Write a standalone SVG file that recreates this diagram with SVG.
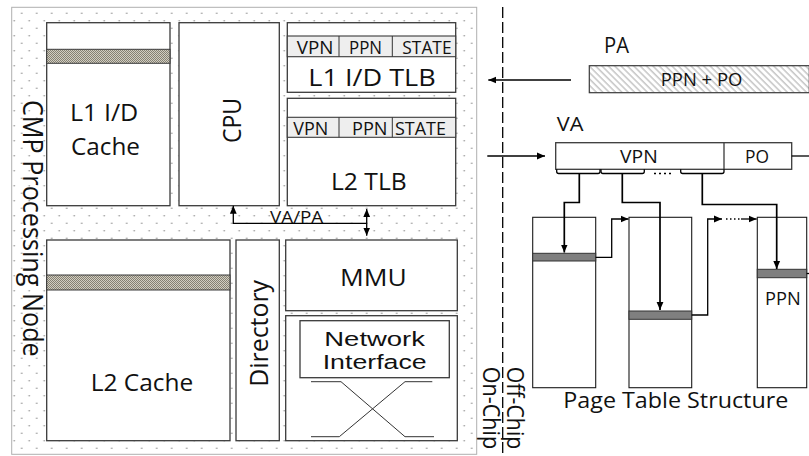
<svg xmlns="http://www.w3.org/2000/svg" width="809" height="456" viewBox="0 0 809 456">
<style>
text{font-family:"Open Sans","Liberation Sans",sans-serif;fill:#111}
.box{fill:#fff;stroke:#3a3a3a;stroke-width:1.3}
.hdr{fill:#eeeeee;stroke:#3a3a3a;stroke-width:1.1}
.tbl{fill:#fff;stroke:#1a1a1a;stroke-width:1.1}
.band{fill:#7f7f7f;stroke:#333;stroke-width:1}
.hb{fill:url(#chk);stroke:#3a3a3a;stroke-width:1}
.conn{fill:none;stroke:#000;stroke-width:1.7}
.thin{fill:none;stroke:#000;stroke-width:1.3}
.x{fill:none;stroke:#333;stroke-width:1}
.big{font-size:23px}
.mid{font-size:18.6px}
.sm{font-size:17.8px}
.ni{font-family:"Liberation Sans","Open Sans",sans-serif;font-size:20.5px}
</style>
<defs>
<pattern id="dots" patternUnits="userSpaceOnUse" x="3.7" y="0" width="15" height="15">
<circle cx="3" cy="13.3" r="0.8" fill="#8c8c8c"/>
<circle cx="10.5" cy="5.8" r="0.8" fill="#8c8c8c"/>
</pattern>
<pattern id="chk" patternUnits="userSpaceOnUse" width="2" height="2">
<rect width="2" height="2" fill="#d2cec2"/>
<rect width="1" height="1" fill="#858173"/>
<rect x="1" y="1" width="1" height="1" fill="#858173"/>
</pattern>
<pattern id="diag" patternUnits="userSpaceOnUse" width="4.5" height="4.5" patternTransform="rotate(-45)">
<rect width="4.5" height="4.5" fill="#fff"/>
<line x1="1" y1="0" x2="1" y2="4.5" stroke="#bdbdbd" stroke-width="1.3"/>
</pattern>
<marker id="ah" markerUnits="userSpaceOnUse" markerWidth="9" markerHeight="8" refX="8" refY="4" orient="auto-start-reverse">
<path d="M0,0.6 L8,4 L0,7.4 z" fill="#000"/>
</marker>
</defs>

<g id="cmp-node">
<rect x="11.7" y="7.3" width="465" height="447" fill="#fff" stroke="#b0b0b0" stroke-width="1"/>
<rect x="11.7" y="7.3" width="465" height="447" fill="url(#dots)"/>
<text style="font-size:28px" transform="translate(23,100) rotate(90)" textLength="256.7" lengthAdjust="spacingAndGlyphs">CMP Processing Node</text>
</g>

<g id="l1-cache">
<rect class="box" x="46.7" y="22.7" width="123.3" height="183"/>
<rect class="hb" x="46.7" y="49.3" width="123.3" height="14"/>
<text class="big" x="70" y="120.7" textLength="68.3" lengthAdjust="spacingAndGlyphs">L1 I/D</text>
<text class="big" x="71" y="155" textLength="69" lengthAdjust="spacingAndGlyphs">Cache</text>
</g>

<g id="cpu">
<rect class="box" x="179" y="22.7" width="100.3" height="183"/>
<text style="font-size:25px" transform="translate(240.7,143) rotate(-90)" textLength="45" lengthAdjust="spacingAndGlyphs">CPU</text>
</g>

<g id="l1-tlb">
<rect class="box" x="287.3" y="22.7" width="168.4" height="69.6"/>
<rect class="hdr" x="287.3" y="36" width="168.4" height="20.7"/>
<line class="x" x1="339" y1="36" x2="339" y2="56.7"/>
<line class="x" x1="392.3" y1="36" x2="392.3" y2="56.7"/>
<text class="sm" x="296.7" y="54" textLength="36.7" lengthAdjust="spacingAndGlyphs">VPN</text>
<text class="sm" x="349" y="54" textLength="33" lengthAdjust="spacingAndGlyphs">PPN</text>
<text class="sm" x="402.3" y="54" textLength="49.3" lengthAdjust="spacingAndGlyphs">STATE</text>
<text class="big" x="308.3" y="86" textLength="127.4" lengthAdjust="spacingAndGlyphs">L1 I/D TLB</text>
</g>

<g id="l2-tlb">
<rect class="box" x="287.3" y="98.3" width="168.4" height="107.4"/>
<rect class="hdr" x="287.3" y="117.3" width="168.4" height="20"/>
<line class="x" x1="339" y1="117.3" x2="339" y2="137.3"/>
<line class="x" x1="392.3" y1="117.3" x2="392.3" y2="137.3"/>
<text class="sm" x="293.3" y="135" textLength="35" lengthAdjust="spacingAndGlyphs">VPN</text>
<text class="sm" x="352" y="135" textLength="35.5" lengthAdjust="spacingAndGlyphs">PPN</text>
<text class="sm" x="395" y="135" textLength="51" lengthAdjust="spacingAndGlyphs">STATE</text>
<text class="big" x="331" y="190" textLength="75.7" lengthAdjust="spacingAndGlyphs">L2 TLB</text>
</g>

<g id="l2-cache">
<rect class="box" x="46.7" y="240" width="183.3" height="200.7"/>
<rect class="hb" x="46.7" y="275" width="183.3" height="15"/>
<text class="big" x="90.7" y="390.7" textLength="102.6" lengthAdjust="spacingAndGlyphs">L2 Cache</text>
</g>

<g id="directory">
<rect class="box" x="236" y="240" width="43.3" height="200.7"/>
<text style="font-size:25px" transform="translate(268,386.7) rotate(-90)" textLength="106.7" lengthAdjust="spacingAndGlyphs">Directory</text>
</g>

<g id="mmu">
<rect class="box" x="285.7" y="240" width="171.6" height="70.7"/>
<text class="big" x="340" y="286" textLength="66.7" lengthAdjust="spacingAndGlyphs">MMU</text>
</g>

<g id="network-interface">
<rect class="box" x="285.7" y="315.7" width="171.6" height="125"/>
<rect class="box" x="300" y="320.7" width="149.3" height="57"/>
<text class="ni" x="324.3" y="345.5" textLength="100.7" lengthAdjust="spacingAndGlyphs">Network</text>
<text class="ni" x="322.7" y="369" textLength="104" lengthAdjust="spacingAndGlyphs">Interface</text>
<path class="x" d="M311,381.7 H341 L405,436.7 H434 M432.3,381.7 H405 L339.3,436.7 H311"/>
</g>

<g id="chip-boundary">
<line x1="502.7" y1="7" x2="502.7" y2="456" stroke="#000" stroke-width="1.3" stroke-dasharray="11,4"/>
<text style="font-size:23.4px" transform="translate(483.3,366.7) rotate(90)" textLength="82.6" lengthAdjust="spacingAndGlyphs">On-Chip</text>
<text style="font-size:23.4px" transform="translate(507.3,366.7) rotate(90)" textLength="82.6" lengthAdjust="spacingAndGlyphs">Off-Chip</text>
</g>

<g id="pa">
<text style="font-size:21.4px" x="604" y="52.7" textLength="25" lengthAdjust="spacingAndGlyphs">PA</text>
<rect x="589.3" y="65.7" width="220" height="27" fill="url(#diag)" stroke="#3a3a3a" stroke-width="1.2"/>
<text class="mid" x="660.7" y="86" textLength="81.7" lengthAdjust="spacingAndGlyphs">PPN + PO</text>
</g>

<g id="va">
<text style="font-size:20px" x="556.7" y="131" textLength="26.7" lengthAdjust="spacingAndGlyphs">VA</text>
<rect class="box" x="555.7" y="142.7" width="236" height="26.6"/>
<line x1="724" y1="142.7" x2="724" y2="169.3" stroke="#3a3a3a" stroke-width="1.3"/>
<text class="mid" x="620" y="162.7" textLength="37.7" lengthAdjust="spacingAndGlyphs">VPN</text>
<text class="mid" x="745" y="162.7" textLength="24" lengthAdjust="spacingAndGlyphs">PO</text>
<path class="thin" d="M556.7,169.3 V171.5 Q556.7,173.5 558.7,173.5 H598 Q600,173.5 600,171.5 V169.3"/>
<path class="thin" d="M601,169.3 V171.5 Q601,173.5 603,173.5 H642.3 Q644.3,173.5 644.3,171.5 V169.3"/>
<path class="thin" d="M680.7,169.3 V171.5 Q680.7,173.5 682.7,173.5 H722 Q724,173.5 724,171.5 V169.3"/>
<line x1="654" y1="173.5" x2="672" y2="173.5" stroke="#000" stroke-width="1.6" stroke-dasharray="2,3"/>
</g>

<g id="pt1">
<rect class="tbl" x="532.7" y="217.3" width="63" height="170.4"/>
<rect class="band" x="532.7" y="253.3" width="63" height="7.7"/>
</g>
<g id="pt2">
<rect class="tbl" x="629" y="217.3" width="62.7" height="170.4"/>
<rect class="band" x="629" y="311" width="62.7" height="8.3"/>
</g>
<g id="pt3">
<rect class="tbl" x="757.3" y="217.3" width="49.4" height="170.4"/>
<rect class="band" x="757.3" y="269.3" width="49.4" height="8.4"/>
<text class="mid" x="765" y="305" textLength="35.7" lengthAdjust="spacingAndGlyphs">PPN</text>
</g>
<g id="page-table-label">
<text style="font-size:22.4px" x="563.3" y="408.3" textLength="225" lengthAdjust="spacingAndGlyphs">Page Table Structure</text>
</g>

<g id="connectors">
<path class="thin" d="M571,80 H488.3" marker-end="url(#ah)"/>
<path class="thin" d="M487.3,156 H545" marker-end="url(#ah)"/>
<path class="thin" d="M791.7,156 H809"/>
<path class="thin" d="M366,223.3 H233.3 V205.7" marker-end="url(#ah)"/>
<path class="thin" d="M366.7,209 V235.7" marker-start="url(#ah)" marker-end="url(#ah)"/>
<text style="font-size:17px" x="270" y="222.7" textLength="53.3" lengthAdjust="spacingAndGlyphs">VA/PA</text>
<path class="conn" d="M579.3,173.5 V202.5 H564.3 V252.5" marker-end="url(#ah)"/>
<path class="conn" d="M622.3,173.5 V202.5 H660 V310" marker-end="url(#ah)"/>
<path class="conn" d="M702.3,173.5 V204.5 H776.7 V269" marker-end="url(#ah)"/>
<path class="thin" d="M595.7,257.3 H611.7 V219 H628.5" marker-end="url(#ah)"/>
<path class="thin" d="M691.7,315 H707.7 V219 H722" marker-end="url(#ah)"/>
<line x1="726" y1="219" x2="740" y2="219" stroke="#000" stroke-width="1.5" stroke-dasharray="1.5,2.5"/>
<path class="thin" d="M741,219 H756.7" marker-end="url(#ah)"/>
<path class="thin" d="M806.7,273.5 H809"/>
</g>
</svg>
